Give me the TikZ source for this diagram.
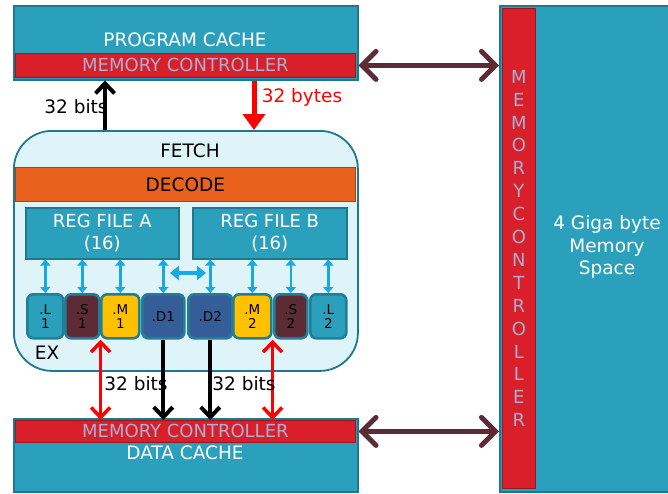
\documentclass[tikz,border=0pt]{standalone}
\usepackage{fontspec}
\setmainfont{DejaVu Sans}
\usepackage{tikz}
\usetikzlibrary{arrows.meta,positioning}

\definecolor{tealfill}{HTML}{2BA0BD}
\definecolor{tealdark}{HTML}{1F7890}
\definecolor{ctlred}{HTML}{D91F2A}
\definecolor{ctltext}{HTML}{A9B0D4}
\definecolor{decorange}{HTML}{E8621E}
\definecolor{corecyan}{HTML}{DFF4F9}
\definecolor{maroon}{HTML}{5C2B36}
\definecolor{unityellow}{HTML}{FFC000}
\definecolor{unitblue}{HTML}{355E99}
\definecolor{arrblue}{HTML}{17A8E6}
\definecolor{arrred}{HTML}{FF0000}

\tikzset{
  box/.style={rectangle, inner sep=0pt, anchor=north west},
  cachebox/.style={box, fill=tealfill, draw=tealdark, line width=1.5pt},
  ctlbar/.style={box, fill=ctlred, draw=ctlred!70!black, line width=0.8pt,
    text=ctltext, font=\fontsize{18}{19}\selectfont},
  regbox/.style={box, fill=tealfill, draw=tealdark, line width=1.5pt,
    text=white, align=center, font=\fontsize{18}{22}\selectfont},
  unitbox/.style={box, rounded corners=6pt, draw=tealdark!85!tealfill, line width=2.6pt,
    minimum height=44, align=center, font=\fontsize{13.5}{14}\selectfont},
  whitelbl/.style={text=white, font=\fontsize{18.5}{22.5}\selectfont},
  blacklbl/.style={text=black, font=\fontsize{18.5}{19}\selectfont},
  linkarr/.style={maroon, line width=5pt, line cap=round,
    {Straight Barb[length=14pt,width=28pt,line cap=round]}-{Straight Barb[length=14pt,width=28pt,line cap=round]}},
  blkarr/.style={black, line width=4pt, -{Straight Barb[length=10pt,width=19pt]}},
  redarr/.style={arrred, line width=3.5pt,
    {Straight Barb[length=10pt,width=19pt]}-{Straight Barb[length=10pt,width=19pt]}},
  redbig/.style={arrred, line width=5pt, -{Triangle[length=16pt,width=22pt]}},
  bluearr/.style={arrblue, line width=2.6pt,
    {Triangle[length=6pt,width=10pt]}-{Triangle[length=6pt,width=10pt]}}
}

\begin{document}
\begin{tikzpicture}[x=1pt, y=-1pt, font=\fontsize{18}{19}\selectfont]
  \clip (0,0) rectangle (668,493);
  \fill[white] (0,0) rectangle (668,493);

  % program cache
  \node[cachebox, minimum width=344, minimum height=74] (pc) at (13,5) {};
  \node[ctlbar, minimum width=340, minimum height=24] (pcmc) at (15,53) {MEMORY CONTROLLER};
  \node[whitelbl] (pclbl) at (185,40) {PROGRAM CACHE};

  % data cache
  \node[cachebox, minimum width=344, minimum height=73] (dc) at (13,418) {};
  \node[ctlbar, minimum width=340, minimum height=22] (dcmc) at (15,420) {MEMORY CONTROLLER};
  \node[whitelbl] (dclbl) at (185,453) {DATA CACHE};

  % main memory
  \node[cachebox, minimum width=180, minimum height=486] (mem) at (499,5) {};
  \node[ctlbar, minimum width=33, minimum height=480, align=center,
    font=\fontsize{18}{22.9}\selectfont] (memmc) at (502,8)
    {M\\E\\M\\O\\R\\Y\\C\\O\\N\\T\\R\\O\\L\\L\\E\\R};
  \node[whitelbl, align=center] (memlbl) at (607,247) {4 Giga byte\\Memory\\Space};

  % core
  \node[box, rounded corners=38pt, fill=corecyan, draw=tealdark, line width=1.8pt,
    minimum width=344, minimum height=240] (core) at (13,130) {};
  \node[blacklbl] (fetch) at (190,151) {FETCH};
  \node[box, fill=decorange, draw=decorange!70!black, line width=0.8pt,
    minimum width=340, minimum height=34] (dec) at (15,167) {};
  \node[blacklbl] (declbl) at (dec.center) {DECODE};
  \node[regbox, minimum width=153, minimum height=51] (rfa) at (25,207) {REG FILE A\\(16)};
  \node[regbox, minimum width=154, minimum height=51] (rfb) at (192,207) {REG FILE B\\(16)};
  \node[blacklbl] (ex) at (47,353) {EX};

  % functional units
  \foreach \name/\lbl/\xl/\w/\col in {
      l1/{.L\\1}/26/36/tealfill, s1/{.S\\1}/64/34/maroon,
      m1/{.M\\1}/100/38/unityellow, d1/{.D1}/141/42/unitblue,
      d2/{.D2}/187/44/unitblue, m2/{.M\\2}/232/38/unityellow,
      s2/{.S\\2}/273/33/maroon, l2/{.L\\2}/309/36/tealfill} {
    \node[unitbox, fill=\col, minimum width=\w] (\name) at (\xl,293) {\lbl};
  }

  % register file ports
  \foreach \u in {l1,s1,m1,d1}
    \draw[bluearr] (\u.north) -- (\u.north |- rfa.south);
  \foreach \u in {d2,m2,s2,l2}
    \draw[bluearr] (\u.north) -- (\u.north |- rfb.south);
  \coordinate (xpl) at (170,273);
  \coordinate (xpr) at (206,273);
  \draw[bluearr, line width=3.5pt, {Triangle[length=9pt,width=14pt]}-{Triangle[length=9pt,width=14pt]}] (xpl) -- (xpr);

  % fetch path
  \coordinate (upA) at (105,130);
  \coordinate (dnA) at (254,130);
  \draw[blkarr] (upA) -- (upA |- pc.south);
  \draw[redbig] (dnA |- pc.south) -- (dnA);
  \node[blacklbl] (bitsA) at (76,107) {32 bits};
  \node[blacklbl, text=arrred] (bytesA) at (302,97) {32 bytes};

  % data path
  \draw[redarr] (s1.south east) -- (s1.south east |- dcmc.north);
  \draw[redarr] (m2.south east) -- (m2.south east |- dcmc.north);
  \draw[blkarr] (d1.south) -- (d1.south |- dcmc.north);
  \draw[blkarr] (d2.south) -- (d2.south |- dcmc.north);
  \node[blacklbl] (bitsB) at (136,384) {32 bits};
  \node[blacklbl] (bitsC) at (244,384) {32 bits};

  % links to main memory
  \draw[linkarr] (pc.east |- pcmc) -- (mem.west |- pcmc);
  \draw[linkarr] (dc.east |- dcmc) -- (mem.west |- dcmc);
\end{tikzpicture}
\end{document}
